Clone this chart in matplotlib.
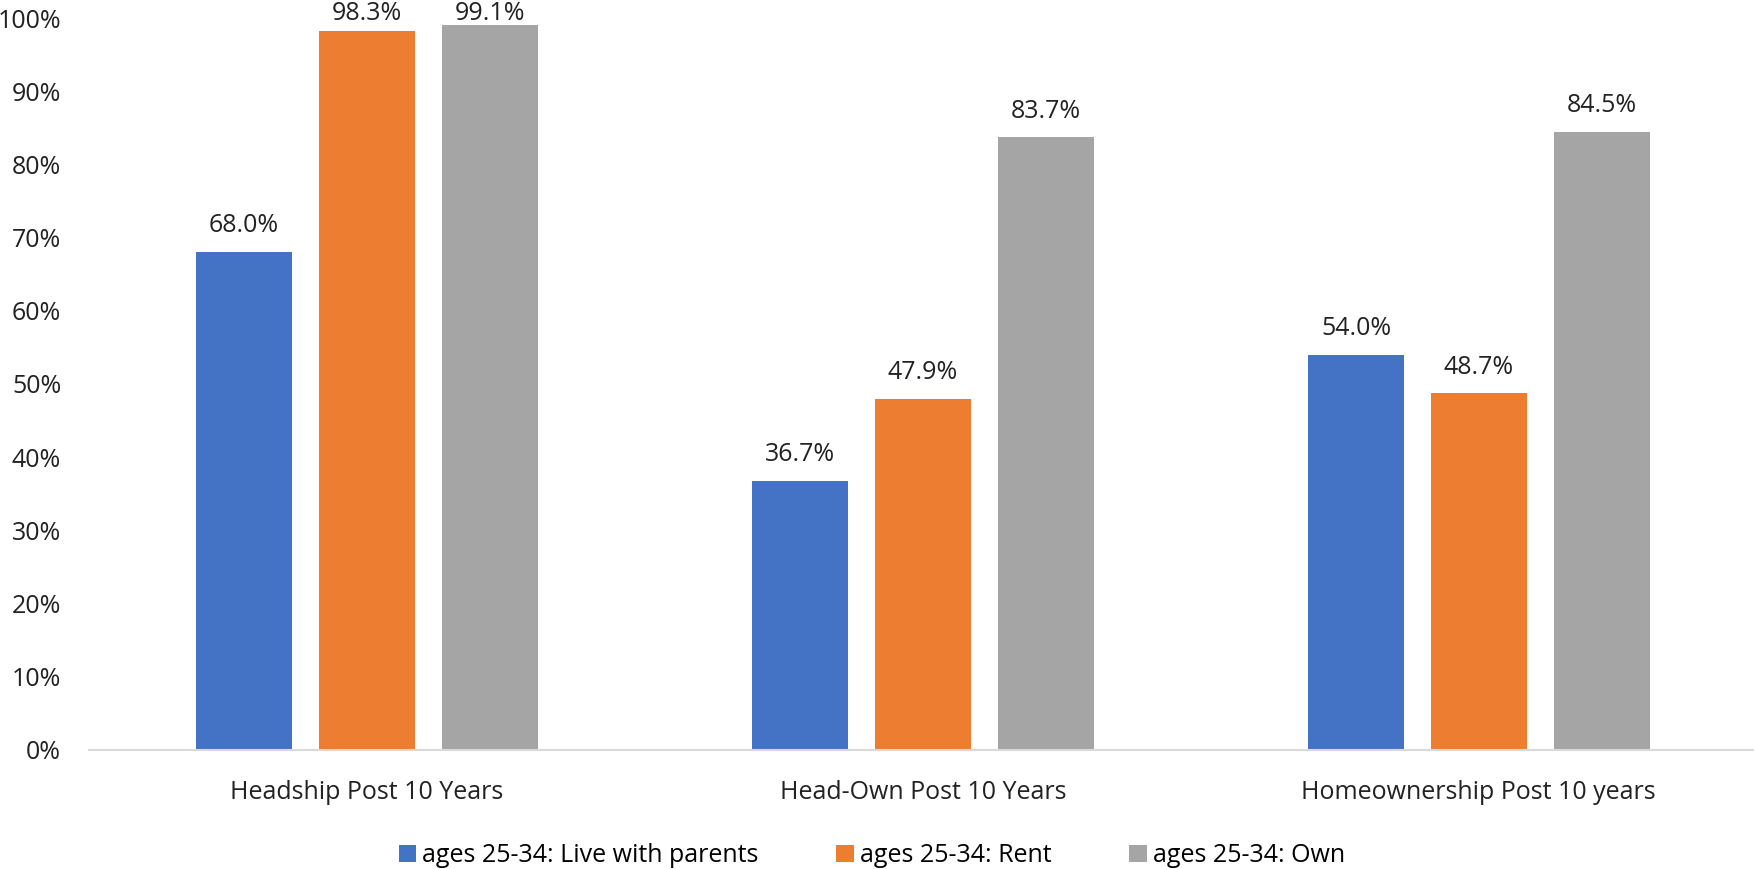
import matplotlib
matplotlib.use("Agg")
import matplotlib.pyplot as plt
import numpy as np
from matplotlib.ticker import PercentFormatter

plt.rcParams["font.family"] = ["Open Sans", "DejaVu Sans"]

categories = ["Headship Post 10 Years", "Head-Own Post 10 Years", "Homeownership Post 10 years"]
series_names = ["ages 25-34: Live with parents", "ages 25-34: Rent", "ages 25-34: Own"]
live_with_parents = [68.0, 36.7, 54.0]
rent = [98.3, 47.9, 48.7]
own = [99.1, 83.7, 84.5]
colors = ["#4472C4", "#ED7D31", "#A5A5A5"]

fig = plt.figure(figsize=(17.54, 8.69), dpi=100)
ax = fig.add_axes([0.0507, 0.1375, 0.9493, 0.8415])

x = np.arange(len(categories))
width = 0.173
offsets = [-0.221, 0.0, 0.221]
for vals, name, color, off in zip([live_with_parents, rent, own], series_names, colors, offsets):
    ax.bar(x + off, vals, width, color=color, label=name, zorder=2)
    # value labels sit above each bar, but are held inside the chart area near the top
    for xi, v in zip(x + off, vals):
        ax.text(xi, min(v + 3.6, 100.6), f"{v:.1f}%", ha="center", va="center",
                fontsize=18, color="#222222", clip_on=False)

ax.set_xlim(-0.5, 2.495)
ax.set_ylim(0, 100)
ax.set_yticks(range(0, 101, 10))
ax.yaxis.set_major_formatter(PercentFormatter(decimals=0))
ax.set_xticks(x)
ax.set_xticklabels(categories)
ax.tick_params(axis="both", length=0, labelsize=18, colors="#222222")
ax.tick_params(axis="x", pad=22)
ax.tick_params(axis="y", pad=20)

for side in ["top", "right", "left"]:
    ax.spines[side].set_visible(False)
ax.spines["bottom"].set_color("#D9D9D9")
ax.spines["bottom"].set_linewidth(1.5)

fig.legend(loc="lower center", ncol=3, frameon=False, fontsize=18,
           bbox_to_anchor=(0.497, -0.025), handlelength=0.7, handleheight=0.7,
           handletextpad=0.25, columnspacing=3.1)

fig.savefig("out.png", dpi=100)
